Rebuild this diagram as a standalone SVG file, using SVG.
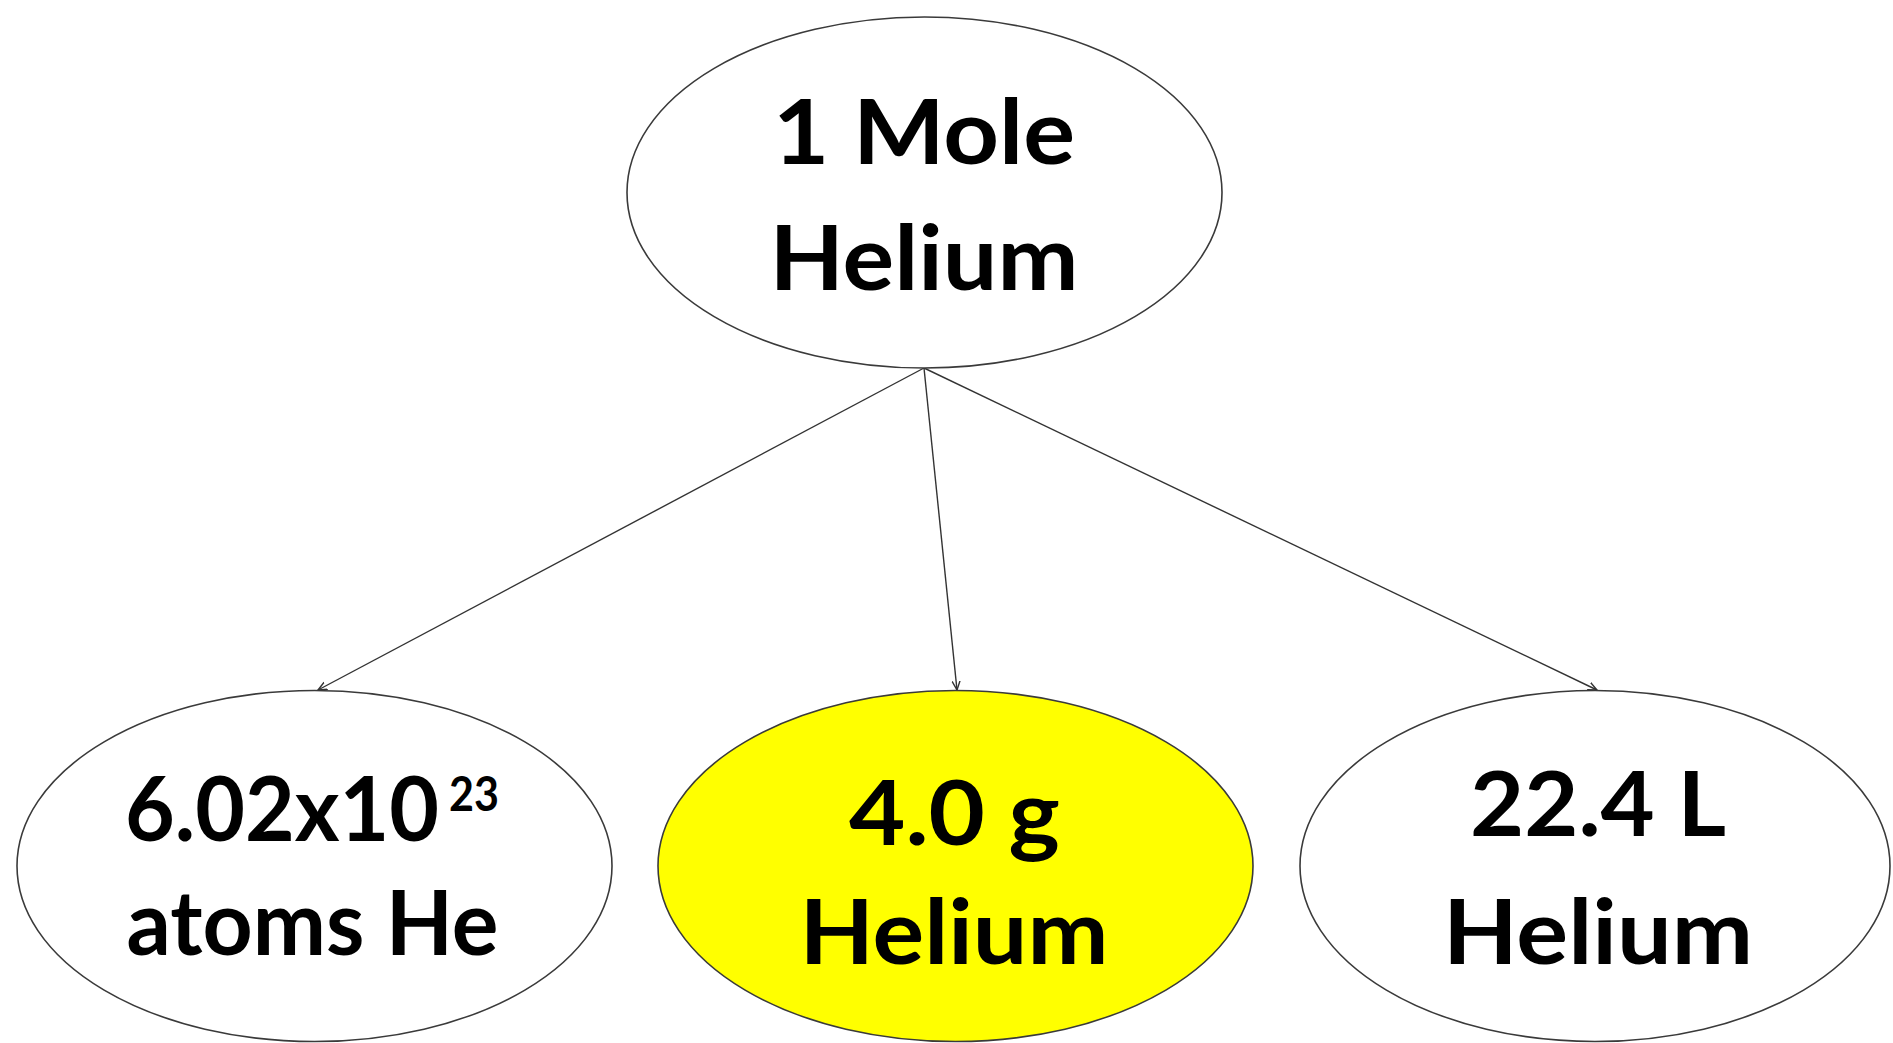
<svg xmlns="http://www.w3.org/2000/svg" width="1893" height="1043" viewBox="0 0 1893 1043">
  <style>
    .node { fill: #ffffff; stroke: #3a3a3a; stroke-width: 1.6; }
    .hl { fill: #ffff00; }
    .label { font-family: Lato, "Liberation Sans", Arial, sans-serif; font-weight: bold; font-size: 90px; fill: #000000; text-anchor: middle; }
    .sup { font-family: Lato, "Liberation Sans", Arial, sans-serif; font-weight: bold; font-size: 48px; fill: #000000; }
    .edge { fill: none; stroke: #333333; stroke-width: 1.4; }
  </style>
  <defs>
    <marker id="arrow" viewBox="0 0 10 10" refX="9" refY="5" markerWidth="10" markerHeight="10" markerUnits="userSpaceOnUse" orient="auto">
      <path d="M0,1 L9,5 L0,9" fill="none" stroke="#333333" stroke-width="1.4"/>
    </marker>
  </defs>
  <rect width="1893" height="1043" fill="#ffffff"/>

  <g id="connectors">
    <line class="edge" x1="924" y1="368" x2="318" y2="690" marker-end="url(#arrow)"/>
    <line class="edge" x1="924" y1="368" x2="957" y2="690" marker-end="url(#arrow)"/>
    <line class="edge" x1="924" y1="368" x2="1597" y2="690" marker-end="url(#arrow)"/>
  </g>

  <g id="mole">
    <ellipse class="node" cx="924.5" cy="192.5" rx="297.5" ry="175.5"/>
    <text class="label" x="924" y="164" textLength="302" lengthAdjust="spacingAndGlyphs">1 Mole</text>
    <text class="label" x="924" y="290" textLength="309" lengthAdjust="spacingAndGlyphs">Helium</text>
  </g>

  <g id="atoms">
    <ellipse class="node" cx="314.5" cy="866" rx="297.5" ry="175.5"/>
    <text class="label" x="282" y="841" textLength="314" lengthAdjust="spacingAndGlyphs">6.02x10</text>
    <text class="sup" x="449" y="811" textLength="50" lengthAdjust="spacingAndGlyphs">23</text>
    <text class="label" x="312.5" y="955" textLength="372" lengthAdjust="spacingAndGlyphs">atoms He</text>
  </g>

  <g id="mass">
    <ellipse class="node hl" cx="955.5" cy="866" rx="297.5" ry="175.5"/>
    <text class="label" x="954.5" y="845" textLength="211" lengthAdjust="spacingAndGlyphs">4.0 g</text>
    <text class="label" x="954" y="964" textLength="309" lengthAdjust="spacingAndGlyphs">Helium</text>
  </g>

  <g id="volume">
    <ellipse class="node" cx="1595" cy="866" rx="295" ry="175.5"/>
    <text class="label" x="1598" y="836" textLength="256" lengthAdjust="spacingAndGlyphs">22.4 L</text>
    <text class="label" x="1598" y="964" textLength="310" lengthAdjust="spacingAndGlyphs">Helium</text>
  </g>
</svg>
